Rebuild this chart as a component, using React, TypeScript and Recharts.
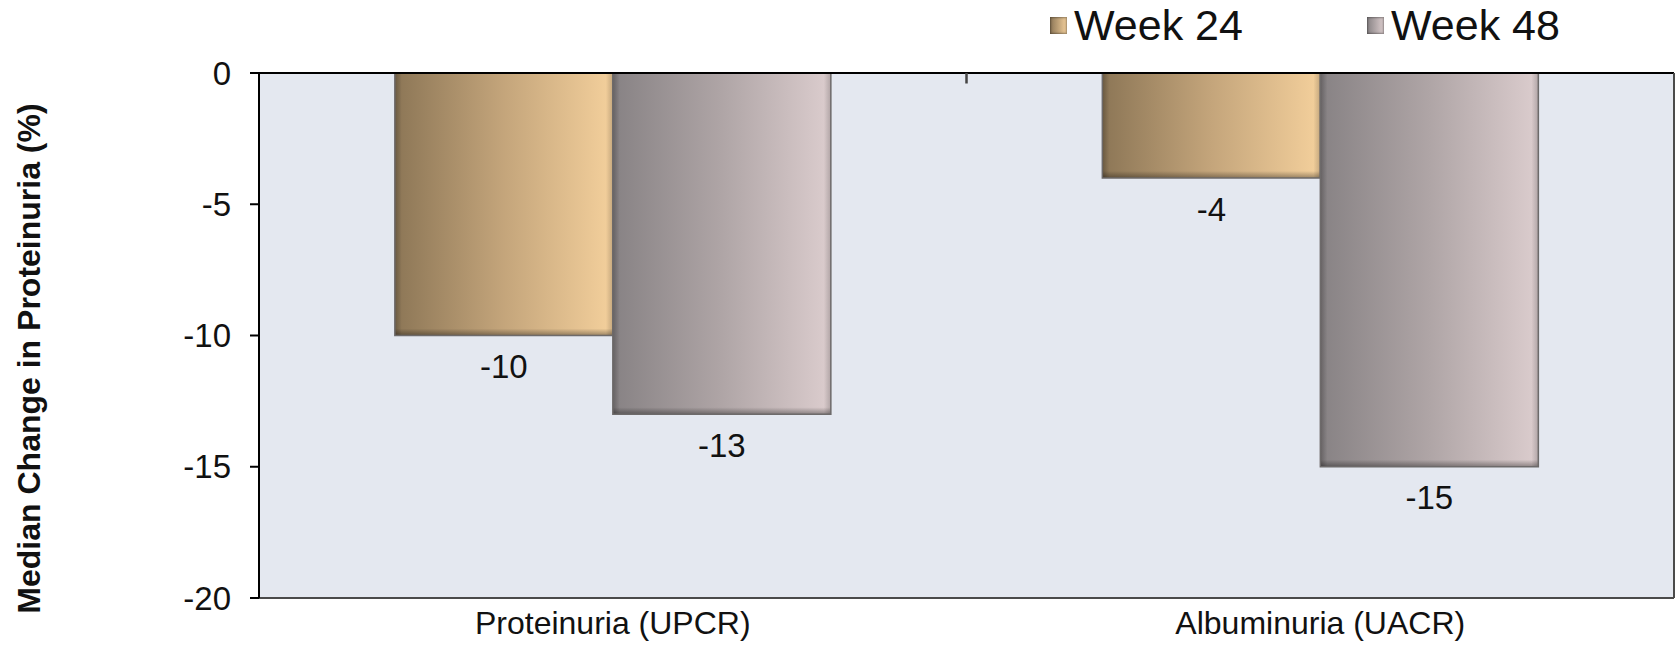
import React from 'react';
import { BarChart, Bar, XAxis, YAxis, CartesianGrid, Legend, ReferenceLine, LabelList } from 'recharts';

const categories = ['Proteinuria (UPCR)', 'Albuminuria (UACR)'];
const week24 = [-10, -4];
const week48 = [-13, -15];
const yTicks = [0, -5, -10, -15, -20];
const seriesNames = ['Week 24', 'Week 48'];

const data = categories.map((c, i) => ({ category: c, w24: week24[i], w48: week48[i] }));

const FONT = '"Liberation Sans", Arial, Helvetica, sans-serif';

const makeShape = (gradId: string) => (props: any) => {
  const { x, y, width, height } = props;
  const top = Math.min(y, y + height);
  const h = Math.abs(height);
  const e = Math.min(7, h / 3);
  return (
    <g>
      <rect x={x} y={top} width={width} height={h} fill={`url(#${gradId})`} />
      <rect x={x} y={top + h - e} width={width} height={e} fill="url(#bevelBottom)" />
      <rect x={x} y={top} width={e} height={h} fill="url(#bevelLeft)" />
      <rect x={x + width - e} y={top} width={e} height={h} fill="url(#bevelRight)" />
      <rect x={x} y={top} width={width} height={h} fill="none" stroke="#6d6a6a" strokeWidth={1.5} />
    </g>
  );
};

const renderLabel = (props: any) => {
  const { x, y, width, height, value } = props;
  const bottom = Math.max(y, y + height);
  return (
    <text x={x + width / 2} y={bottom + 31} textAnchor="middle" dominantBaseline="central"
      fontSize={33} fontFamily={FONT} fill="#111">{value}</text>
  );
};

const LegendContent = () => {
  const items = [
    { name: seriesNames[0], grad: 'linear-gradient(90deg,#8c7656,#f4d09c)', ml: 1050 },
    { name: seriesNames[1], grad: 'linear-gradient(90deg,#878284,#dccdce)', ml: 1367 },
  ];
  return (
    <div style={{ position: 'relative', width: 1679, height: 50, fontFamily: FONT }}>
      {items.map((it) => (
        <div key={it.name} style={{ position: 'absolute', left: it.ml, top: 0, display: 'flex', alignItems: 'center', height: 50 }}>
          <div style={{ width: 17, height: 17, background: it.grad, boxShadow: 'inset 0 0 2px 1px rgba(0,0,0,0.35)', marginRight: 7 }} />
          <span style={{ fontSize: 43, color: '#111', lineHeight: '50px' }}>{it.name}</span>
        </div>
      ))}
    </div>
  );
};

const YTitle = (props: any) => {
  const { viewBox } = props;
  const cx = 29;
  const cy = viewBox.y + viewBox.height / 2 + 23;
  return (
    <text x={cx} y={cy} transform={`rotate(-90 ${cx} ${cy})`} textAnchor="middle" dominantBaseline="central"
      fontSize={32} fontWeight="bold" fontFamily={FONT} fill="#111">
      Median Change in Proteinuria (%)
    </text>
  );
};

export default function App() {
  return (
    <div style={{ position: 'absolute', left: 0, top: 0, background: '#fff' }}>
      <BarChart width={1679} height={648} data={data} margin={{ top: 73, right: 4, bottom: 0, left: 0 }}
        barCategoryGap="19.2%" barGap={0} style={{ fontFamily: FONT }}>
        <defs>
          <linearGradient id="g24" x1="0" y1="0" x2="1" y2="0">
            <stop offset="0%" stopColor="#8c7656" />
            <stop offset="50%" stopColor="#c4a57b" />
            <stop offset="100%" stopColor="#f4d09c" />
          </linearGradient>
          <linearGradient id="g48" x1="0" y1="0" x2="1" y2="0">
            <stop offset="0%" stopColor="#878284" />
            <stop offset="50%" stopColor="#afa5a6" />
            <stop offset="100%" stopColor="#dccdce" />
          </linearGradient>
          <linearGradient id="bevelBottom" x1="0" y1="0" x2="0" y2="1">
            <stop offset="0%" stopColor="#000" stopOpacity={0} />
            <stop offset="100%" stopColor="#000" stopOpacity={0.35} />
          </linearGradient>
          <linearGradient id="bevelLeft" x1="0" y1="0" x2="1" y2="0">
            <stop offset="0%" stopColor="#000" stopOpacity={0.25} />
            <stop offset="100%" stopColor="#000" stopOpacity={0} />
          </linearGradient>
          <linearGradient id="bevelRight" x1="0" y1="0" x2="1" y2="0">
            <stop offset="0%" stopColor="#000" stopOpacity={0} />
            <stop offset="100%" stopColor="#000" stopOpacity={0.2} />
          </linearGradient>
        </defs>
        <CartesianGrid fill="#e4e8f0" horizontal={false} vertical={false} />
        <XAxis dataKey="category" height={50} axisLine={{ stroke: '#4a4a4a', strokeWidth: 2 }} tickLine={false} tickSize={0}
          tickMargin={13} tick={{ fontSize: 32, fill: '#111', fontFamily: FONT }} interval={0} />
        <YAxis yAxisId="left" domain={[-20, 0]} ticks={yTicks} width={259} allowDataOverflow
          axisLine={{ stroke: '#000', strokeWidth: 2 }} tickLine={{ stroke: '#000', strokeWidth: 2 }} tickSize={9}
          tickMargin={19} tick={{ fontSize: 33, fill: '#111', fontFamily: FONT }}
          label={<YTitle />} />
        <YAxis yAxisId="right" orientation="right" domain={[-20, 0]} width={1} tick={false} tickLine={false}
          axisLine={{ stroke: '#4a4a4a', strokeWidth: 2 }} />
        <ReferenceLine yAxisId="left" y={0} stroke="#000" strokeWidth={2} />
        <ReferenceLine yAxisId="left" position="end"
          segment={[{ x: categories[0], y: 0 }, { x: categories[0], y: -0.4 }]} stroke="#444" strokeWidth={2.5} />
        <Legend layout="horizontal" verticalAlign="middle" align="center" content={<LegendContent />}
          wrapperStyle={{ position: 'absolute', top: 0, left: 0, width: 1679, height: 50 }} />
        <Bar yAxisId="left" dataKey="w24" name={seriesNames[0]} fill="#c4a57b" isAnimationActive={false} shape={makeShape('g24')}>
          <LabelList dataKey="w24" content={renderLabel} />
        </Bar>
        <Bar yAxisId="left" dataKey="w48" name={seriesNames[1]} fill="#afa5a6" isAnimationActive={false} shape={makeShape('g48')}>
          <LabelList dataKey="w48" content={renderLabel} />
        </Bar>
      </BarChart>
    </div>
  );
}
